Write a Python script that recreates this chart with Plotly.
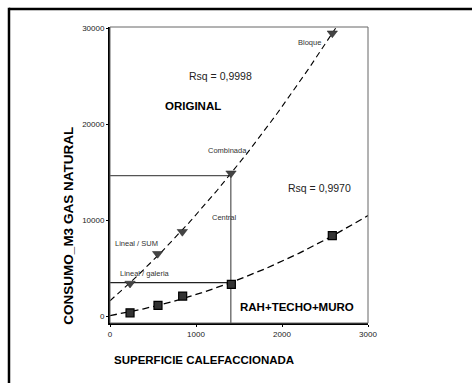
import numpy as np
import plotly.graph_objects as go

# Heated surface (m2) and natural gas consumption (m3) per building type
superficie_original = [233, 554, 841, 1407, 2585]
consumo_original = [3400, 6500, 8800, 14900, 29500]
etiquetas_original = ["Lineal / galeria", "Lineal / SUM", "", "Combinada", "Bloque"]

superficie_mejorado = [233, 558, 845, 1411, 2585]
consumo_mejorado = [345, 1117, 2088, 3300, 8382]

# Reference lines for the "Central" building
central_superficie = 1405
central_original = 14650
central_mejorado = 3500

x_ticks = [0, 1000, 2000, 3000]
y_ticks = [0, 10000, 20000, 30000]
x_range = [0, 3000]
y_range = [-720, 30150]

FONT = "Liberation Sans Narrow, Arial Narrow, Liberation Sans, Arial"

# Quadratic trend lines
xs = np.linspace(0, 3000, 200)
p_orig = np.polyfit(superficie_original, consumo_original, 2)
p_mej = np.polyfit(superficie_mejorado, consumo_mejorado, 2)
y_orig = np.polyval(p_orig, xs)
mask = y_orig <= y_range[1]
y_mej = np.polyval(p_mej, xs)

fig = go.Figure()

# reference lines
fig.add_trace(go.Scatter(x=[0, central_superficie, central_superficie],
                         y=[central_original, central_original, y_range[0]],
                         mode="lines", line=dict(color="#555", width=1.2),
                         hoverinfo="skip", showlegend=False))
fig.add_trace(go.Scatter(x=[0, central_superficie],
                         y=[central_mejorado, central_mejorado],
                         mode="lines", line=dict(color="#222", width=1.2),
                         hoverinfo="skip", showlegend=False))

fig.add_trace(go.Scatter(x=xs[mask], y=y_orig[mask], mode="lines",
                         line=dict(color="black", width=1.1, dash="6px,4px"),
                         showlegend=False))
fig.add_trace(go.Scatter(x=xs, y=y_mej, mode="lines",
                         line=dict(color="black", width=1.3, dash="7px,4px"),
                         showlegend=False))

fig.add_trace(go.Scatter(x=superficie_original, y=consumo_original, mode="markers",
                         marker=dict(symbol="triangle-down", size=9, color="#444",
                                     line=dict(color="#222", width=0.5)),
                         showlegend=False))
fig.add_trace(go.Scatter(x=superficie_mejorado, y=consumo_mejorado, mode="markers",
                         marker=dict(symbol="square", size=8, color="#333",
                                     line=dict(color="black", width=1.2)),
                         showlegend=False))

small = dict(family=FONT, size=7.5, color="#333")
# (x, y, text, xshift, yshift) for the building-type labels
etiquetas = [
    (233, 3400, etiquetas_original[0], 15, 10),
    (554, 6500, etiquetas_original[1], -21, 10),
    (1407, 14900, etiquetas_original[3], -4, 23),
    (2585, 29500, etiquetas_original[4], -23, -9),
    (1405, 10300, "Central", -6, 0),
]
for x, y, t, dx, dy in etiquetas:
    fig.add_annotation(x=x, y=y, text=t, showarrow=False,
                       xshift=dx, yshift=dy, font=small)

fig.add_annotation(x=1280, y=25000, text="Rsq = 0,9998", showarrow=False,
                   font=dict(family=FONT, size=10.5, color="#222"))
fig.add_annotation(x=2440, y=13400, text="Rsq = 0,9970", showarrow=False,
                   font=dict(family=FONT, size=10.5, color="#222"))
fig.add_annotation(x=960, y=21900, text="<b>ORIGINAL</b>", showarrow=False,
                   font=dict(family=FONT, size=11.5, color="black"))
fig.add_annotation(x=2170, y=900, text="<b>RAH+TECHO+MURO</b>", showarrow=False,
                   font=dict(family=FONT, size=11.5, color="black"))

# axis titles, placed below / left of the plot area
fig.add_annotation(xref="paper", yref="paper", x=0.364, y=-0.125,
                   text="<b>SUPERFICIE CALEFACCIONADA</b>", showarrow=False,
                   xanchor="center", yanchor="middle",
                   font=dict(family=FONT, size=11.5, color="black"))
fig.add_annotation(xref="paper", yref="paper", x=-0.16, y=0.328,
                   text="<b>CONSUMO_M3 GAS NATURAL</b>", showarrow=False,
                   textangle=-90, xanchor="center", yanchor="middle",
                   font=dict(family=FONT, size=13.5, color="black"))

# plot frame and outer page frame
shapes = [
    dict(type="rect", xref="paper", yref="paper", x0=0, y0=0, x1=1, y1=1,
         line=dict(color="#666", width=1)),
    dict(type="line", xref="paper", yref="paper", x0=-0.3915, x1=1.5, y0=1.0608, y1=1.0608,
         line=dict(color="black", width=2.5)),
    dict(type="line", xref="paper", yref="paper", x0=-0.3915, x1=-0.3915, y0=1.065, y1=-0.25,
         line=dict(color="black", width=2.5)),
]

fig.update_layout(
    width=472, height=383,
    margin=dict(l=110, r=104, t=27, b=60),
    paper_bgcolor="white", plot_bgcolor="white",
    shapes=shapes,
    xaxis=dict(range=x_range, tickvals=x_ticks, tickformat="d", showgrid=False,
               zeroline=False, showline=True, linecolor="black", linewidth=2,
               ticks="outside", ticklen=2, tickcolor="black",
               tickfont=dict(family=FONT, size=8, color="#222")),
    yaxis=dict(range=y_range, tickvals=y_ticks, tickformat="d", showgrid=False,
               zeroline=False, showline=True, linecolor="black", linewidth=2,
               ticks="outside", ticklen=2, tickcolor="black",
               tickfont=dict(family=FONT, size=8, color="#222")),
)

fig.write_html("out.html")
